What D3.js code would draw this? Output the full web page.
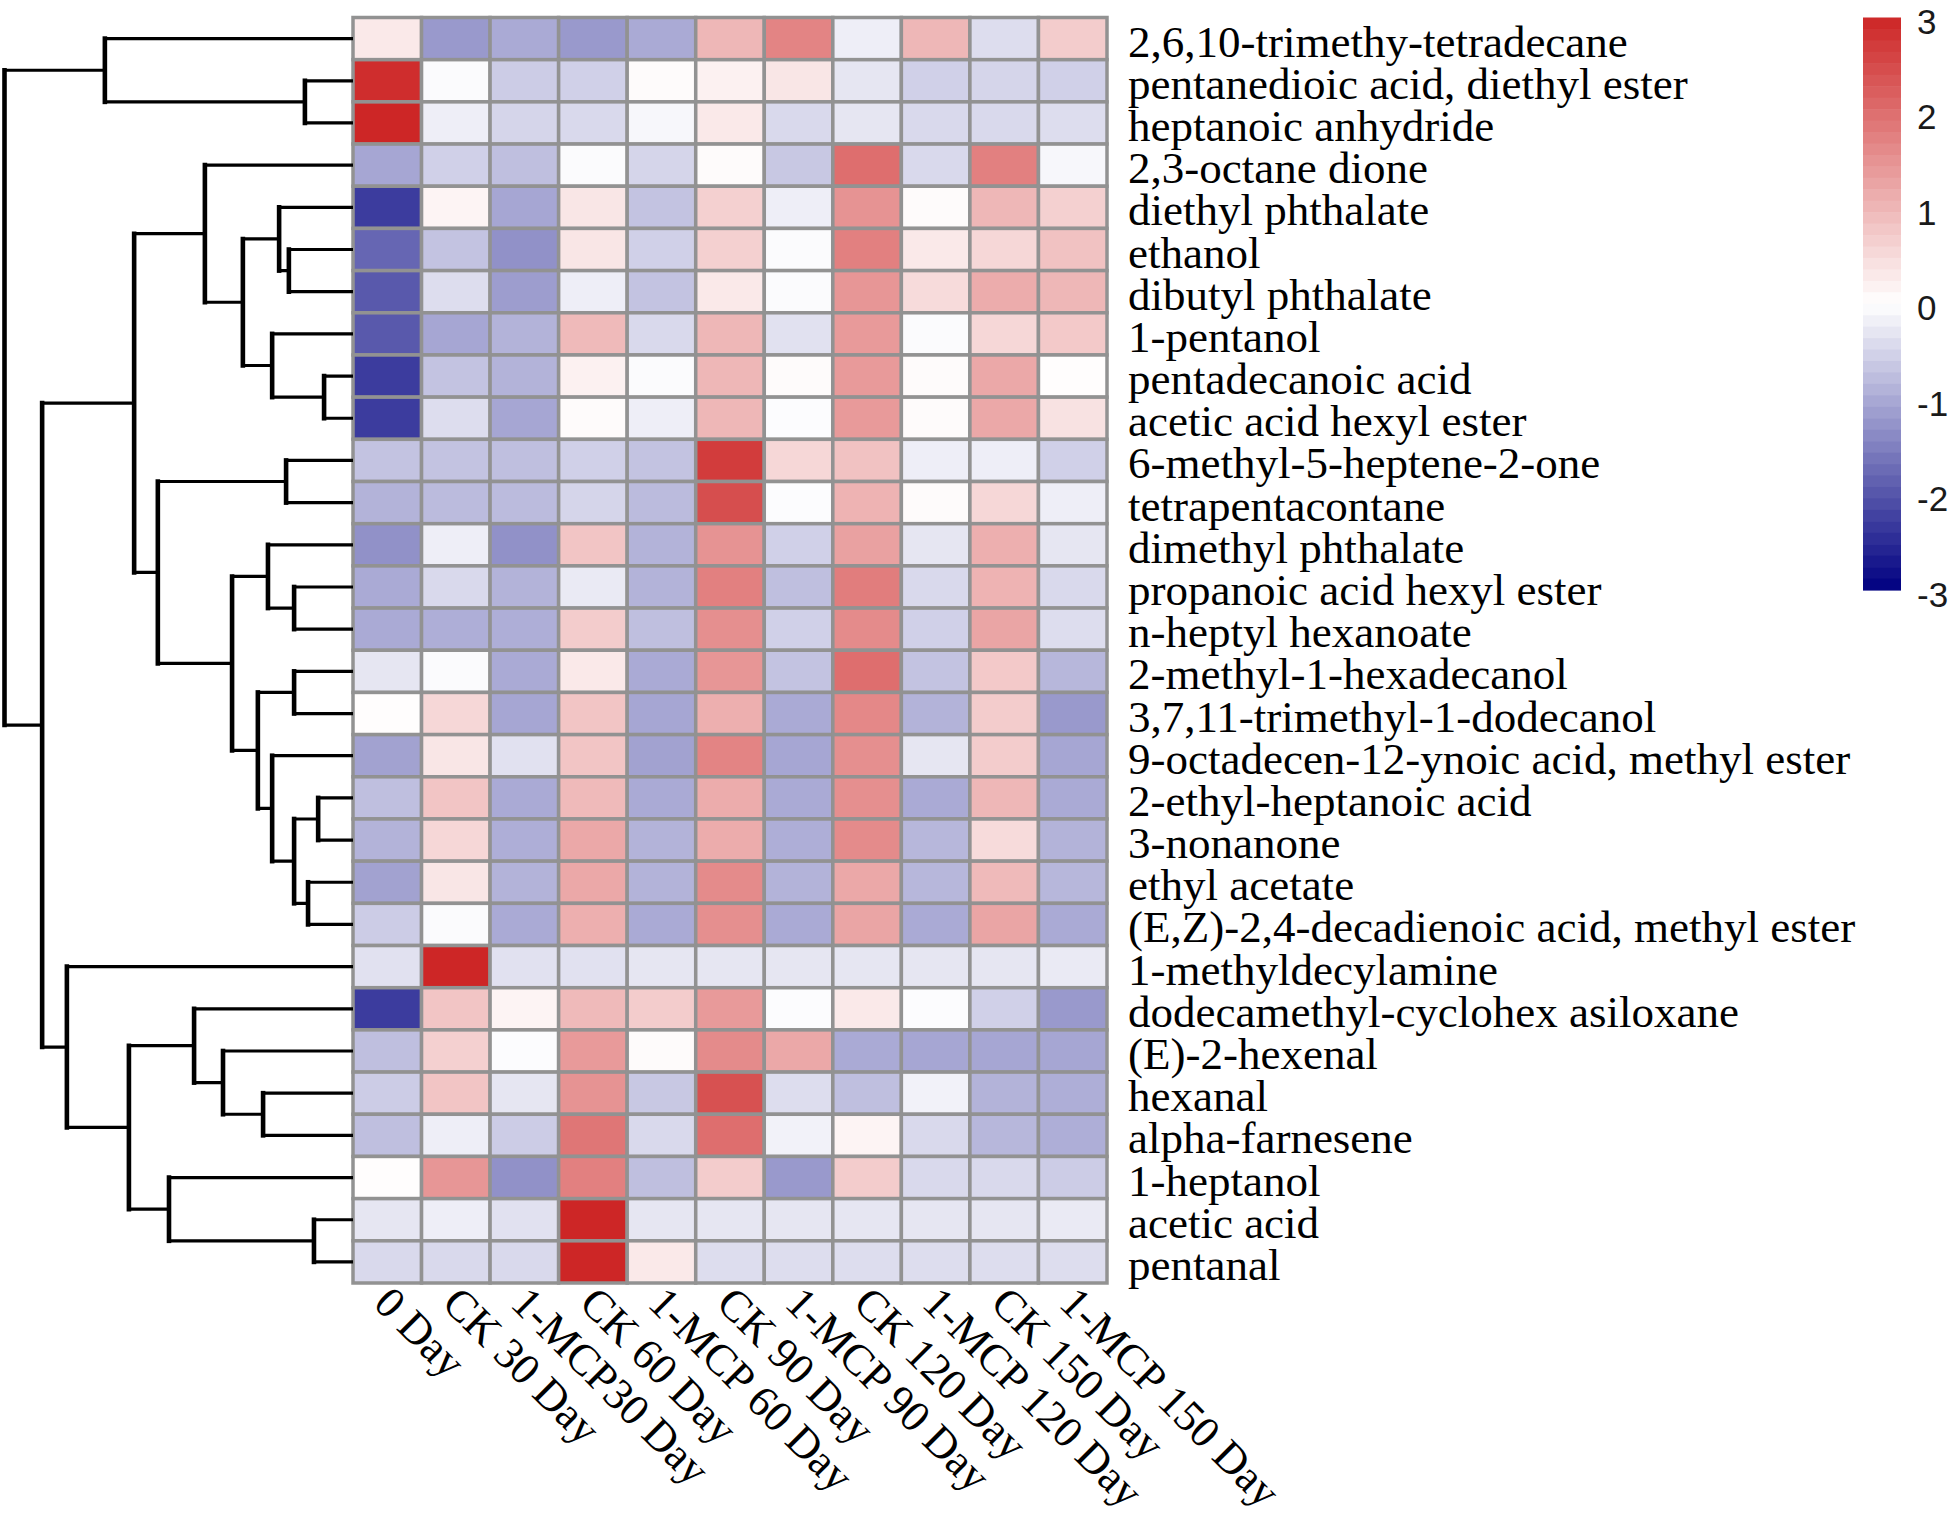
<!DOCTYPE html>
<html>
<head>
<meta charset="utf-8">
<script src="https://cdn.jsdelivr.net/npm/d3@7"></script>
<style>
  html, body { margin: 0; padding: 0; background: #ffffff; }
  svg { display: block; }
</style>
</head>
<body>
<svg id="chart" width="1955" height="1527"></svg>
<script>
// ---------- data ----------
const rowNames = [
  "2,6,10-trimethy-tetradecane",
  "pentanedioic acid, diethyl ester",
  "heptanoic anhydride",
  "2,3-octane dione",
  "diethyl phthalate",
  "ethanol",
  "dibutyl phthalate",
  "1-pentanol",
  "pentadecanoic acid",
  "acetic acid hexyl ester",
  "6-methyl-5-heptene-2-one",
  "tetrapentacontane",
  "dimethyl phthalate",
  "propanoic acid hexyl ester",
  "n-heptyl hexanoate",
  "2-methyl-1-hexadecanol",
  "3,7,11-trimethyl-1-dodecanol",
  "9-octadecen-12-ynoic acid, methyl ester",
  "2-ethyl-heptanoic acid",
  "3-nonanone",
  "ethyl acetate",
  "(E,Z)-2,4-decadienoic acid, methyl ester",
  "1-methyldecylamine",
  "dodecamethyl-cyclohex asiloxane",
  "(E)-2-hexenal",
  "hexanal",
  "alpha-farnesene",
  "1-heptanol",
  "acetic acid",
  "pentanal"
];

const colNames = [
  "0 Day", "CK 30 Day", "1-MCP30 Day", "CK 60 Day", "1-MCP 60 Day",
  "CK 90 Day", "1-MCP 90 Day", "CK 120 Day", "1-MCP 120 Day",
  "CK 150 Day", "1-MCP 150 Day"
];

// z-scores, one array per row (columns in colNames order)
const values = [
  [ 0.30, -1.20, -1.00, -1.20, -1.00,  1.00,  1.70, -0.20,  1.00, -0.40,  0.70],
  [ 2.90, -0.05, -0.60, -0.55,  0.05,  0.20,  0.35, -0.30, -0.55, -0.50, -0.55],
  [ 3.00, -0.20, -0.50, -0.45, -0.10,  0.30, -0.45, -0.30, -0.45, -0.45, -0.40],
  [-1.05, -0.55, -0.75, -0.05, -0.50,  0.05, -0.65,  2.00, -0.45,  1.75, -0.10],
  [-2.30,  0.15, -1.05,  0.35, -0.70,  0.65, -0.20,  1.50,  0.05,  1.00,  0.65],
  [-1.80, -0.70, -1.30,  0.35, -0.55,  0.65, -0.05,  1.75,  0.30,  0.55,  0.85],
  [-1.95, -0.40, -1.15, -0.20, -0.70,  0.30, -0.05,  1.45,  0.50,  1.15,  1.00],
  [-1.95, -1.05, -0.90,  0.95, -0.45,  1.00, -0.35,  1.40, -0.05,  0.55,  0.75],
  [-2.30, -0.70, -0.90,  0.20, -0.05,  1.00,  0.05,  1.40,  0.05,  1.20,  0.03],
  [-2.30, -0.40, -1.05,  0.05, -0.20,  1.00, -0.03,  1.40,  0.05,  1.20,  0.40],
  [-0.70, -0.70, -0.75, -0.55, -0.70,  2.70,  0.55,  0.85, -0.20, -0.20, -0.55],
  [-0.90, -0.80, -0.80, -0.50, -0.80,  2.45, -0.03,  1.05,  0.05,  0.55, -0.20],
  [-1.30, -0.20, -1.30,  0.80, -0.90,  1.50, -0.55,  1.30, -0.30,  1.10, -0.30],
  [-1.00, -0.45, -0.90, -0.25, -0.90,  1.75, -0.75,  1.80, -0.45,  1.05, -0.45],
  [-1.00, -0.95, -0.95,  0.70, -0.75,  1.55, -0.55,  1.60, -0.55,  1.25, -0.40],
  [-0.30, -0.05, -1.00,  0.30, -1.00,  1.45, -0.70,  2.00, -0.70,  0.75, -0.85],
  [ 0.03,  0.55, -1.05,  0.80, -1.05,  1.10, -1.00,  1.65, -0.90,  0.70, -1.20],
  [-1.10,  0.35, -0.35,  0.80, -1.10,  1.70, -1.05,  1.55, -0.30,  0.70, -1.05],
  [-0.75,  0.80, -1.00,  0.95, -1.00,  1.15, -1.00,  1.55, -1.00,  1.00, -1.00],
  [-0.90,  0.55, -0.95,  1.20, -0.90,  1.15, -0.95,  1.60, -0.85,  0.50, -0.90],
  [-1.10,  0.35, -0.90,  1.20, -0.90,  1.60, -0.90,  1.20, -0.85,  0.95, -0.85],
  [-0.60, -0.05, -1.00,  1.10, -1.00,  1.55, -1.00,  1.25, -1.00,  1.25, -1.00],
  [-0.35,  3.00, -0.35, -0.35, -0.30, -0.30, -0.30, -0.30, -0.30, -0.30, -0.25],
  [-2.30,  0.80,  0.15,  0.95,  0.70,  1.40, -0.03,  0.30, -0.03, -0.55, -1.20],
  [-0.75,  0.65, -0.03,  1.40,  0.05,  1.60,  1.20, -1.00, -1.05, -1.05, -1.05],
  [-0.60,  0.80, -0.30,  1.50, -0.65,  2.40, -0.40, -0.75, -0.15, -0.90, -0.95],
  [-0.75, -0.20, -0.60,  1.90, -0.45,  2.00, -0.15,  0.15, -0.45, -0.85, -0.95],
  [ 0.03,  1.45, -1.30,  1.75, -0.75,  0.70, -1.20,  0.70, -0.45, -0.45, -0.60],
  [-0.30, -0.20, -0.35,  3.00, -0.30, -0.30, -0.30, -0.30, -0.30, -0.30, -0.25],
  [-0.45, -0.45, -0.45,  3.00,  0.30, -0.40, -0.40, -0.40, -0.40, -0.40, -0.40]
];

// row dendrogram: [mergeHeight, left, right]; numbers are row indices
const rowTree =
  [100,
    [71.2, 0, [13.8, 1, 2]],
    [89.2,
      [62.8,
        [42.5, 3,
          [31.6,
            [21.2, 4, [18.4, 5, 6]],
            [23.2, 7, [8.3, 8, 9]]]],
        [56.0,
          [19.2, 10, 11],
          [34.7,
            [24.4, 12, [16.9, 13, 14]],
            [27.3,
              [16.9, 15, 16],
              [23.2, 17, [16.9, [10.0, 18, 19], [12.9, 20, 21]]]]]]],
      [82.1, 22,
        [64.3,
          [45.6, 23, [37.3, 24, [25.8, 25, 26]]],
          [52.8, 27, [11.2, 28, 29]]]]]];

const legendTicks = [3, 2, 1, 0, -1, -2, -3];
const colorStops = ["#000080", "#ffffff", "#cd2626"];

// ---------- layout ----------
const svg = d3.select("#chart");
svg.append("rect").attr("width", 1955).attr("height", 1527).attr("fill", "#ffffff");

const hmLeft = 353, hmRight = 1107, hmTop = 17.5, hmBottom = 1283;

const x = d3.scaleBand().domain(d3.range(colNames.length)).range([hmLeft, hmRight]).padding(0);
const y = d3.scaleBand().domain(d3.range(rowNames.length)).range([hmTop, hmBottom]).padding(0);
const color = d3.scaleLinear().domain([-3, 0, 3]).range(colorStops).clamp(true);

const serif = "'Liberation Serif', 'Times New Roman', Times, serif";
const sans = "'Liberation Sans', Arial, Helvetica, sans-serif";

// ---------- heatmap ----------
const cells = [];
values.forEach((row, i) => row.forEach((v, j) => cells.push({ i, j, v })));

svg.append("g").selectAll("rect").data(cells).join("rect")
  .attr("x", d => x(d.j))
  .attr("y", d => y(d.i))
  .attr("width", x.bandwidth())
  .attr("height", y.bandwidth())
  .attr("fill", d => color(d.v))
  .attr("stroke", "#929292")
  .attr("stroke-width", 3.5);

// ---------- row labels ----------
svg.append("g").selectAll("text").data(rowNames).join("text")
  .attr("x", hmRight + 21)
  .attr("y", (d, i) => y(i) + y.bandwidth() / 2 + 18)
  .attr("font-family", serif)
  .attr("font-size", 45)
  .attr("fill", "#000")
  .text(d => d);

// ---------- column labels ----------
svg.append("g").selectAll("text").data(colNames).join("text")
  .attr("transform", (d, j) => `translate(${x(j) + x.bandwidth() / 2 - 5},${hmBottom + 12}) rotate(45)`)
  .attr("dominant-baseline", "central")
  .attr("text-anchor", "start")
  .attr("font-family", serif)
  .attr("font-size", 44)
  .attr("fill", "#000")
  .text(d => d);

// ---------- dendrogram ----------
const hScale = d3.scaleLinear().domain([0, 100]).range([hmLeft, 4.5]);
const dendro = svg.append("g").attr("fill", "none").attr("stroke", "#000");

function layout(node) {
  if (typeof node === "number") {
    return { h: 0, yc: y(node) + y.bandwidth() / 2 };
  }
  const [h, a, b] = node;
  const la = layout(a), lb = layout(b);
  const xn = hScale(h);
  // horizontal arms
  dendro.append("path").attr("stroke-width", 3.2)
    .attr("d", `M${hScale(la.h)},${la.yc}H${xn}M${xn},${lb.yc}H${hScale(lb.h)}`);
  // vertical joint
  dendro.append("path").attr("stroke-width", 4.6).attr("stroke-linecap", "square")
    .attr("d", `M${xn},${la.yc}V${lb.yc}`);
  return { h, yc: (la.yc + lb.yc) / 2 };
}
layout(rowTree);

// ---------- legend ----------
const legTop = 17.5, legBottom = 590, legLeft = 1863, legW = 38;
const ly = d3.scaleLinear().domain([3, -3]).range([legTop, legBottom]);
const nSteps = 50;
const stepVals = d3.range(nSteps).map(k => 3 - (k + 0.5) * 6 / nSteps);
svg.append("g").selectAll("rect").data(stepVals).join("rect")
  .attr("x", legLeft)
  .attr("y", (d, k) => legTop + k * (legBottom - legTop) / nSteps)
  .attr("width", legW)
  .attr("height", (legBottom - legTop) / nSteps + 0.6)
  .attr("fill", d => color(d));

svg.append("g").selectAll("text").data(legendTicks).join("text")
  .attr("x", 1917)
  .attr("y", d => ly(d) + 4)
  .attr("dominant-baseline", "central")
  .attr("font-family", sans)
  .attr("font-size", 35)
  .attr("fill", "#1a1a1a")
  .text(d => d);
</script>
</body>
</html>
